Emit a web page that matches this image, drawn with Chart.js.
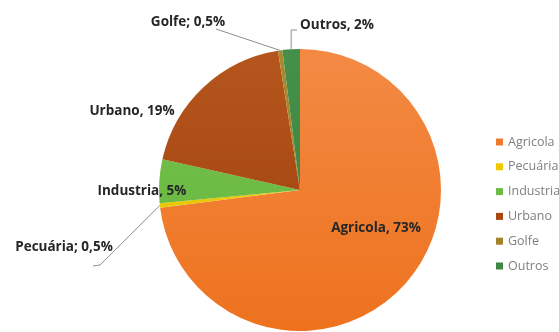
<!DOCTYPE html>
<html>
<head>
<meta charset="utf-8">
<script src="https://cdn.jsdelivr.net/npm/chart.js@4/dist/chart.umd.min.js"></script>
<style>
  html, body { margin: 0; padding: 0; background: #fff; overflow: hidden; }
  #wrap { position: relative; width: 559px; height: 332px; }
</style>
</head>
<body>
<div id="wrap"><canvas id="c" width="559" height="332"></canvas></div>
<script>
// Water use by sector (%)
const categories = ['Agricola', 'Pecuária', 'Industria', 'Urbano', 'Golfe', 'Outros'];
const shares = [73, 0.5, 5, 19, 0.5, 2];
const separators = [', ', '; ', ', ', ', ', '; ', ', '];

// Slice fills: top colour, bottom colour of a soft vertical shading
const sliceTop = ['#F38A44', '#EBCD10', '#74C24C', '#B4561D', '#A98A30', '#44904A'];
const sliceBottom = ['#EE721E', '#E6C400', '#66B53F', '#9E3F0A', '#9C7C26', '#3A8040'];
const legendColors = ['#EE7A30', '#F0C800', '#6DBB45', '#A8470F', '#A3832A', '#3F8744'];

// Where each data label sits (centre of text) and its optional leader path
const labelPlacement = [
  { x: 376, y: 228, leader: null },
  { x: 64,  y: 247, leader: [{ x: 93, y: 266 }, { x: 100, y: 265 }] },
  { x: 142, y: 191, leader: null },
  { x: 132, y: 111, leader: null },
  { x: 188, y: 22,  leader: [{ x: 216, y: 29 }] },
  { x: 337, y: 25,  leader: [{ x: 297, y: 30 }, { x: null, y: 30 }] }
];

const fmt = v => String(v).replace('.', ',') + '%';

const dataLabels = {
  id: 'dataLabels',
  afterDatasetsDraw(chart) {
    const ctx = chart.ctx;
    const arcs = chart.getDatasetMeta(0).data;
    ctx.save();
    // leader lines
    ctx.strokeStyle = '#8E8E8E';
    ctx.lineWidth = 1;
    arcs.forEach((arc, i) => {
      const p = labelPlacement[i];
      if (!p.leader) return;
      const mid = (arc.startAngle + arc.endAngle) / 2;
      const ax = arc.x + Math.cos(mid) * arc.outerRadius;
      const ay = arc.y + Math.sin(mid) * arc.outerRadius;
      ctx.beginPath();
      p.leader.forEach((pt, k) => {
        const px = pt.x === null ? ax : pt.x;
        if (k === 0) ctx.moveTo(px, pt.y); else ctx.lineTo(px, pt.y);
      });
      ctx.lineTo(ax, ay);
      ctx.stroke();
    });
    // label texts
    ctx.font = 'bold 13.5px "Open Sans", "Liberation Sans", sans-serif';
    ctx.fillStyle = '#262626';
    ctx.textAlign = 'center';
    ctx.textBaseline = 'middle';
    categories.forEach((name, i) => {
      const p = labelPlacement[i];
      ctx.fillText(name + separators[i] + fmt(shares[i]), p.x, p.y);
    });
    ctx.restore();
  }
};

const sideLegend = {
  id: 'sideLegend',
  afterDraw(chart) {
    const ctx = chart.ctx;
    ctx.save();
    ctx.font = '12.5px "Open Sans", "Liberation Sans", sans-serif';
    ctx.textAlign = 'left';
    ctx.textBaseline = 'middle';
    categories.forEach((name, i) => {
      const y = 142 + i * 24.8;
      ctx.fillStyle = legendColors[i];
      ctx.fillRect(496, y - 3.5, 7, 7);
      ctx.fillStyle = '#7F7F7F';
      ctx.fillText(name, 508, y);
    });
    ctx.restore();
  }
};

function shaded(context) {
  const i = context.dataIndex;
  const chart = context.chart;
  const area = chart.chartArea;
  if (!area) return sliceBottom[i];
  const g = chart.ctx.createLinearGradient(0, area.top, 0, area.bottom);
  g.addColorStop(0, sliceTop[i]);
  g.addColorStop(1, sliceBottom[i]);
  return g;
}

new Chart(document.getElementById('c'), {
  type: 'pie',
  data: {
    labels: categories,
    datasets: [{
      data: shares,
      backgroundColor: shaded,
      borderWidth: 0
    }]
  },
  options: {
    responsive: false,
    animation: false,
    layout: { padding: { left: 159, right: 118, top: 49, bottom: 1 } },
    plugins: {
      legend: { display: false },
      tooltip: { enabled: false }
    }
  },
  plugins: [dataLabels, sideLegend]
});
</script>
</body>
</html>
